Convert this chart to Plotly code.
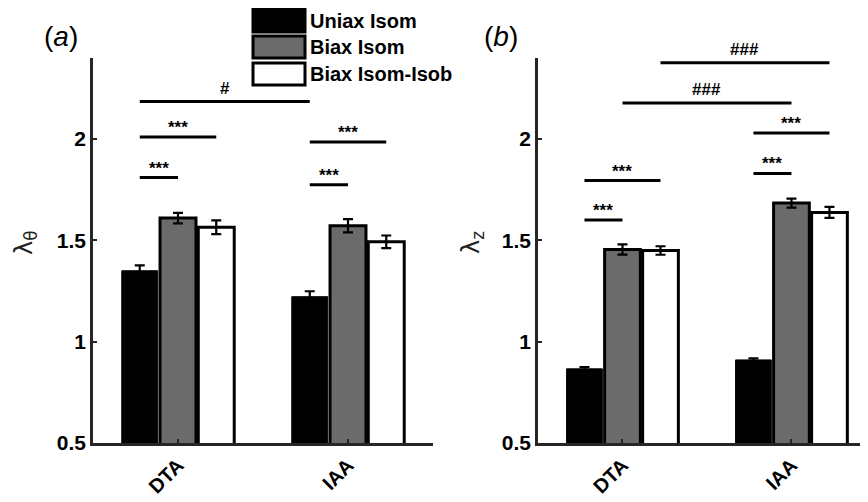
import plotly.graph_objects as go

# ---------------- data ----------------
categories = ["DTA", "IAA"]
cat_pos = [1, 2]
series_names = ["Uniax Isom", "Biax Isom", "Biax Isom-Isob"]

lam_theta_uniax = [1.35, 1.222]
lam_theta_uniax_err = [0.027, 0.027]
lam_theta_biax = [1.61, 1.572]
lam_theta_biax_err = [0.026, 0.033]
lam_theta_isob = [1.565, 1.493]
lam_theta_isob_err = [0.034, 0.031]

lam_z_uniax = [0.866, 0.910]
lam_z_uniax_err = [0.008, 0.008]
lam_z_biax = [1.455, 1.684]
lam_z_biax_err = [0.025, 0.022]
lam_z_isob = [1.450, 1.638]
lam_z_isob_err = [0.021, 0.027]

y_ticks = [0.5, 1, 1.5, 2]
y_tick_labels = ["0.5", "1", "1.5", "2"]

# significance bars: (x_start, x_end, y, label)
sig_a = [
    (0.775, 1.775, 2.185, "#"),
    (0.775, 1.225, 2.010, "***"),
    (0.775, 1.000, 1.810, "***"),
    (1.775, 2.225, 1.985, "***"),
    (1.775, 2.000, 1.775, "***"),
]
sig_b = [
    (1.225, 2.225, 2.377, "###"),
    (1.000, 2.000, 2.178, "###"),
    (1.775, 2.225, 2.030, "***"),
    (1.775, 2.000, 1.830, "***"),
    (0.775, 1.225, 1.795, "***"),
    (0.775, 1.000, 1.600, "***"),
]

colors = ["#000000", "#6b6b6b", "#ffffff"]
FONT = "Liberation Sans, Arial, sans-serif"
AX = "#262626"

# page body has an 8px margin: figure is placed at (8, 8) in the window
W, H, OFF = 860, 494, 8


def px(x):
    return (x - OFF) / W


def py(y):
    return 1 - (y - OFF) / H


fig = go.Figure()

panels = [
    ("x", "y", [lam_theta_uniax, lam_theta_biax, lam_theta_isob],
     [lam_theta_uniax_err, lam_theta_biax_err, lam_theta_isob_err], sig_a),
    ("x2", "y2", [lam_z_uniax, lam_z_biax, lam_z_isob],
     [lam_z_uniax_err, lam_z_biax_err, lam_z_isob_err], sig_b),
]

for xa, ya, vals, errs, sigs in panels:
    for i in range(3):
        fig.add_trace(go.Bar(
            x=cat_pos, y=vals[i], name=series_names[i], xaxis=xa, yaxis=ya,
            marker=dict(color=colors[i], line=dict(color="#000000", width=3 if i > 0 else 1)),
            error_y=dict(type="data", array=errs[i], color="#000000", thickness=2.2, width=5),
            showlegend=False, offsetgroup=str(i),
        ))
    for (x0, x1, yv, lab) in sigs:
        fig.add_trace(go.Scatter(
            x=[x0, x1], y=[yv, yv], mode="lines", xaxis=xa, yaxis=ya,
            line=dict(color="#000000", width=3), showlegend=False, cliponaxis=False,
        ))
        fig.add_annotation(
            x=(x0 + x1) / 2, y=yv, xref=xa, yref=ya, text="<b>%s</b>" % lab, showarrow=False,
            xanchor="center", yanchor="bottom", yshift=(2 if "#" in lab else -2),
            font=dict(family=FONT, size=17, color="#000000"),
        )

axis_common = dict(
    showline=True, linecolor=AX, linewidth=2.5, mirror=False, showgrid=False,
    zeroline=False, ticks="inside", tickcolor=AX, tickwidth=2, ticklen=4,
    automargin=False,
)
xfont = dict(family=FONT, size=20, color="#000000", weight="bold")
yfont = dict(family=FONT, size=21, color="#000000", weight="bold")

fig.update_layout(
    width=W, height=H,
    margin=dict(l=0, r=0, t=0, b=0),
    plot_bgcolor="white", paper_bgcolor="white",
    barmode="group", bargap=0.325, bargroupgap=0.06,
    font=dict(family=FONT, color="#000000"),
    xaxis=dict(domain=[px(93), px(433)], range=[0.5, 2.5], anchor="y",
               tickvals=cat_pos, ticktext=categories, tickangle=-45,
               tickfont=xfont, **axis_common),
    yaxis=dict(domain=[py(443), py(58)], range=[0.5, 2.4], anchor="x",
               tickvals=y_ticks, ticktext=y_tick_labels, tickfont=yfont, **axis_common),
    xaxis2=dict(domain=[px(538), 1.0], range=[0.5, 2.453], anchor="y2",
                tickvals=cat_pos, ticktext=categories, tickangle=-45,
                tickfont=xfont, **axis_common),
    yaxis2=dict(domain=[py(443), py(58)], range=[0.5, 2.4], anchor="x2",
                tickvals=y_ticks, ticktext=y_tick_labels, tickfont=yfont, **axis_common),
)

# panel labels and axis titles
fig.add_annotation(x=px(61), y=py(37), xref="paper", yref="paper", xanchor="center",
                   yanchor="middle", text="(<i>a</i>)", showarrow=False,
                   font=dict(family=FONT, size=28))
fig.add_annotation(x=px(501), y=py(37), xref="paper", yref="paper", xanchor="center",
                   yanchor="middle", text="(<i>b</i>)", showarrow=False,
                   font=dict(family=FONT, size=28))
fig.add_annotation(x=px(25), y=py(243), xref="paper", yref="paper", xanchor="center",
                   yanchor="middle", text="λ<sub>θ</sub>", textangle=-90, showarrow=False,
                   font=dict(family="DejaVu Sans", size=24, color="#222222"))
fig.add_annotation(x=px(472), y=py(243), xref="paper", yref="paper", xanchor="center",
                   yanchor="middle", text="λ<sub>z</sub>", textangle=-90, showarrow=False,
                   font=dict(family="DejaVu Sans", size=24, color="#222222"))

# legend (drawn manually to match large swatches)
leg_rows = [(9, 32), (36, 58), (63, 85)]
for i, (y0, y1) in enumerate(leg_rows):
    fig.add_shape(type="rect", xref="paper", yref="paper",
                  x0=px(253), x1=px(305), y0=py(y1), y1=py(y0),
                  fillcolor=colors[i], line=dict(color="#000000", width=3))
    fig.add_annotation(x=px(308), y=py((y0 + y1) / 2), xref="paper", yref="paper",
                       text="<b>%s</b>" % series_names[i], showarrow=False,
                       xanchor="left", yanchor="middle",
                       font=dict(family=FONT, size=20, color="#000000"))

fig.write_html("out.html")
